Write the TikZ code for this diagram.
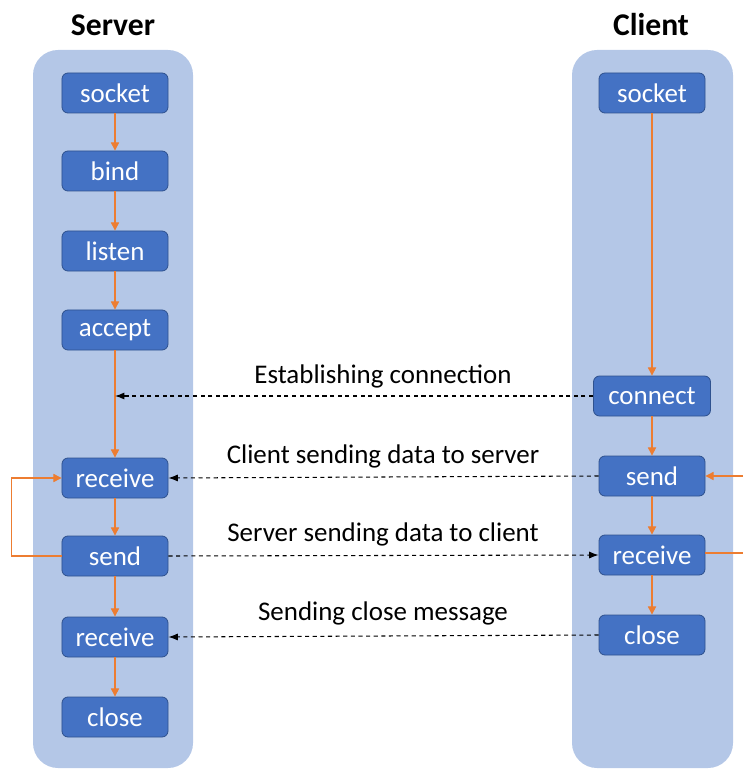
\documentclass[tikz,border=0pt]{standalone}
\usepackage{fontspec}
\setmainfont{Carlito}
\usetikzlibrary{arrows.meta}

\definecolor{lanebg}{RGB}{180,199,231}
\definecolor{callfill}{RGB}{68,114,196}
\definecolor{callline}{RGB}{47,82,143}
\definecolor{flowcol}{RGB}{237,125,49}

\tikzset{
  lane/.style={fill=lanebg, rounded corners=0.75cm},
  call/.style={draw=callline, fill=callfill, text=white, line width=0.7pt,
    rounded corners=0.18cm, minimum width=3.18cm, minimum height=1.2cm,
    inner sep=0pt, font=\fontsize{23}{26}\selectfont},
  flow/.style={draw=flowcol, line width=0.9pt, -{Triangle[length=7pt,width=7pt]}},
  flowline/.style={draw=flowcol, line width=0.9pt},
  msg/.style={line width=0.9pt, dash pattern=on 3.5pt off 3pt, -{Latex[length=8pt,width=6pt]}},
  caption/.style={font=\fontsize{23}{27}\selectfont},
  title/.style={font=\fontsize{27}{30}\selectfont\bfseries}
}

\begin{document}
\begin{tikzpicture}[x=0.03cm, y=-0.03cm]

\useasboundingbox (0,0) rectangle (743,769);

% swim lanes
\fill[lane] (33,50) rectangle (193,768);
\fill[lane] (572,50) rectangle (733,768);

\node[title] (servertitle) at (113,25) {Server};
\node[title] (clienttitle) at (651,25) {Client};

% server side
\node[call] (ssocket) at (115,93) {socket};
\node[call] (sbind) at (115,171) {bind};
\node[call] (slisten) at (115,251) {listen};
\node[call] (saccept) at (115,330) {accept};
\node[call] (srecv) at (115,478) {receive};
\node[call] (ssend) at (115,556) {send};
\node[call] (srecvclose) at (115,637) {receive};
\node[call] (sclose) at (115,717) {close};

% client side
\node[call] (csocket) at (652,93) {socket};
\node[call, minimum width=3.51cm] (cconnect) at (652,396) {connect};
\node[call] (csend) at (652,476) {send};
\node[call] (crecv) at (652,555) {receive};
\node[call] (cclose) at (652,635) {close};

\coordinate (joint) at (saccept |- cconnect);
\coordinate (edge) at (743,0);
\coordinate (crecvout) at ([yshift=0.06cm]crecv.east);

% control flow
\draw[flow] (ssocket) -- (sbind);
\draw[flow] (sbind) -- (slisten);
\draw[flow] (slisten) -- (saccept);
\draw[flow] (saccept) -- (srecv);
\draw[flow] (srecv) -- (ssend);
\draw[flow] (ssend) -- (srecvclose);
\draw[flow] (srecvclose) -- (sclose);
\draw[flow] (ssend.west) -- ++(-50,0) |- (srecv.west);

\draw[flow] (csocket) -- (cconnect);
\draw[flow] (cconnect) -- (csend);
\draw[flow] (csend) -- (crecv);
\draw[flow] (crecv) -- (cclose);
\draw[flow] (edge |- csend) -- (csend.east);
\draw[flowline] (crecvout) -- (edge |- crecvout);

% messages
\draw[msg] (cconnect.west) -- (joint);
\node[caption] (lblconnect) at (383,376) {Establishing connection};

\draw[msg] (csend.west) -- (srecv.east);
\node[caption] (lblsend) at (383,456) {Client sending data to server};

\draw[msg] (ssend.east) -- (crecv.west);
\node[caption] (lblreply) at (383,534) {Server sending data to client};

\draw[msg] (cclose.west) -- (srecvclose.east);
\node[caption] (lblclose) at (383,613) {Sending close message};

\end{tikzpicture}
\end{document}
